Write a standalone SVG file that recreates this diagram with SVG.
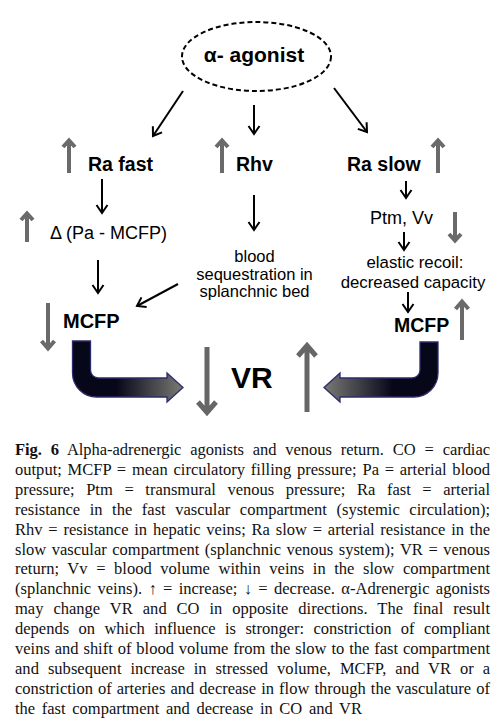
<svg xmlns="http://www.w3.org/2000/svg" width="504" height="726" viewBox="0 0 504 726">
<style>
.lb{font-family:"Liberation Sans",Arial,sans-serif;font-weight:bold;fill:#000}
.lr{font-family:"Liberation Sans",Arial,sans-serif;fill:#000}
.cap{font-family:"Liberation Serif","Times New Roman",serif;font-size:16.5px;fill:#111}
.bk{stroke:#000;stroke-width:2;fill:none;marker-end:url(#ah)}
.gr{stroke:#6a6a6a;stroke-width:4;fill:none;stroke-linejoin:miter}
.grb{stroke:#666;stroke-width:5;fill:none;stroke-linejoin:miter}
</style>
<defs>
<marker id="ah" markerUnits="userSpaceOnUse" markerWidth="14" markerHeight="14" viewBox="-10 -7 12 14" refX="0" refY="0" orient="auto">
<path d="M-8,-5.5 L0,0 L-8,5.5" fill="none" stroke="#000" stroke-width="2"/>
</marker>
<linearGradient id="gl" gradientUnits="userSpaceOnUse" x1="72" y1="0" x2="183" y2="0">
<stop offset="0" stop-color="#07071a"/>
<stop offset="0.4" stop-color="#07071a"/>
<stop offset="1" stop-color="#7a7a74"/>
</linearGradient>
<linearGradient id="gr" gradientUnits="userSpaceOnUse" x1="438" y1="0" x2="324" y2="0">
<stop offset="0" stop-color="#07071a"/>
<stop offset="0.4" stop-color="#07071a"/>
<stop offset="1" stop-color="#7a7a74"/>
</linearGradient>
</defs>
<rect width="504" height="726" fill="#fff"/>

<g id="agonist">
<ellipse cx="256.5" cy="56.5" rx="74.5" ry="34.5" fill="#fff" stroke="#000" stroke-width="2" stroke-dasharray="5,3"/>
<text class="lb" x="254" y="62" font-size="21" text-anchor="middle">α- agonist</text>
</g>

<g id="ra-fast"><text class="lb" x="88" y="171" font-size="19.5">Ra fast</text></g>
<g id="rhv"><text class="lb" x="236" y="171" font-size="19.5">Rhv</text></g>
<g id="ra-slow"><text class="lb" x="347" y="171" font-size="19.5">Ra slow</text></g>
<g id="delta"><text class="lr" x="50" y="239" font-size="18">Δ (Pa - MCFP)</text></g>
<g id="ptm-vv"><text class="lr" x="370" y="224" font-size="18">Ptm, Vv</text></g>
<g id="blood">
<text class="lr" font-size="16.5" text-anchor="middle"><tspan x="254.5" y="262">blood</tspan><tspan x="254.5" y="279.5">sequestration in</tspan><tspan x="254.5" y="297">splanchnic bed</tspan></text>
</g>
<g id="elastic">
<text class="lr" font-size="16.8" text-anchor="middle"><tspan x="415" y="268">elastic recoil:</tspan><tspan x="413" y="288">decreased capacity</tspan></text>
</g>
<g id="mcfp-left"><text class="lb" x="63" y="328" font-size="20">MCFP</text></g>
<g id="mcfp-right"><text class="lb" x="394" y="332" font-size="19.5">MCFP</text></g>
<g id="vr"><text class="lb" x="231" y="388" font-size="30">VR</text></g>

<g id="flow-arrows">
<path id="thick-left" d="M72.5,341 H90.5 V370 A8,8 0 0 0 98.5,378 H167 V373 L183,387.5 L167,402 V397 H96.5 A24,24 0 0 1 72.5,373 Z" fill="url(#gl)" stroke="#2c2c6e" stroke-width="1.3"/>
<path id="thick-right" d="M438,342 H420 V370 A8,8 0 0 1 412,378 H340 V373 L324,387.5 L340,402 V397 H414 A24,24 0 0 0 438,373 Z" fill="url(#gr)" stroke="#2c2c6e" stroke-width="1.3"/>
</g>

<g id="indicators">
<path class="gr" d="M69,173 V141 M63,147 L69,140.5 L75,147"/>
<path class="gr" d="M222,173 V141 M216,147 L222,140.5 L228,147"/>
<path class="gr" d="M438,173 V141 M432,147 L438,140.5 L444,147"/>
<path class="gr" d="M27,242 V214 M21,220 L27,213.5 L33,220"/>
<path class="gr" d="M455,212 V240 M449,234 L455,240.5 L461,234"/>
<path class="gr" d="M48,303 V348 M41.5,341 L48,348.5 L54.5,341"/>
<path class="gr" d="M462,340 V302 M455.5,309 L462,301.5 L468.5,309"/>
<path class="grb" d="M207,347 V412 M198,402 L207,412.5 L216,402"/>
<path class="grb" d="M307,412 V346 M298,356 L307,345.5 L316,356"/>
</g>

<g id="connectors">
<line class="bk" x1="183" y1="91" x2="153" y2="136"/>
<line class="bk" x1="254" y1="105" x2="254" y2="134"/>
<line class="bk" x1="334" y1="88" x2="367" y2="132"/>
<line class="bk" x1="102" y1="179" x2="102" y2="213"/>
<line class="bk" x1="254" y1="195" x2="254" y2="230"/>
<line class="bk" x1="406" y1="181" x2="406" y2="198"/>
<line class="bk" x1="98" y1="260" x2="98" y2="293"/>
<line class="bk" x1="404" y1="232" x2="404" y2="250"/>
<line class="bk" x1="408" y1="292" x2="408" y2="312"/>
<line class="bk" x1="178" y1="284" x2="137" y2="306"/>
</g>

<g id="caption" class="cap">
<text x="15" y="455" textLength="475" lengthAdjust="spacing" word-spacing="4.8"><tspan font-weight="bold">Fig. 6</tspan> Alpha-adrenergic agonists and venous return. CO = cardiac</text>
<text x="15" y="474.9" textLength="475" lengthAdjust="spacing" word-spacing="1.6">output; MCFP = mean circulatory filling pressure; Pa = arterial blood</text>
<text x="15" y="494.8" textLength="475" lengthAdjust="spacing" word-spacing="7.5">pressure; Ptm = transmural venous pressure; Ra fast = arterial</text>
<text x="15" y="514.7" textLength="475" lengthAdjust="spacing" word-spacing="5.5">resistance in the fast vascular compartment (systemic circulation);</text>
<text x="15" y="534.6" textLength="475" lengthAdjust="spacing" word-spacing="1.7">Rhv = resistance in hepatic veins; Ra slow = arterial resistance in the</text>
<text x="15" y="554.5" textLength="475" lengthAdjust="spacing" word-spacing="1.4">slow vascular compartment (splanchnic venous system); VR = venous</text>
<text x="15" y="574.4" textLength="475" lengthAdjust="spacing" word-spacing="4.5">return; Vv = blood volume within veins in the slow compartment</text>
<text x="15" y="594.3" textLength="475" lengthAdjust="spacing" word-spacing="2.2">(splanchnic veins). ↑ = increase; ↓ = decrease. α-Adrenergic agonists</text>
<text x="15" y="614.2" textLength="475" lengthAdjust="spacing" word-spacing="5.8">may change VR and CO in opposite directions. The final result</text>
<text x="15" y="634.1" textLength="475" lengthAdjust="spacing" word-spacing="5.3">depends on which influence is stronger: constriction of compliant</text>
<text x="15" y="654" textLength="475" lengthAdjust="spacing" word-spacing="0.8">veins and shift of blood volume from the slow to the fast compartment</text>
<text x="15" y="673.9" textLength="475" lengthAdjust="spacing" word-spacing="4.8">and subsequent increase in stressed volume, MCFP, and VR or a</text>
<text x="15" y="693.8" textLength="475" lengthAdjust="spacing" word-spacing="0.95">constriction of arteries and decrease in flow through the vasculature of</text>
<text x="15" y="713.7" textLength="347" lengthAdjust="spacing" word-spacing="2.5">the fast compartment and decrease in CO and VR</text>
</g>
</svg>
